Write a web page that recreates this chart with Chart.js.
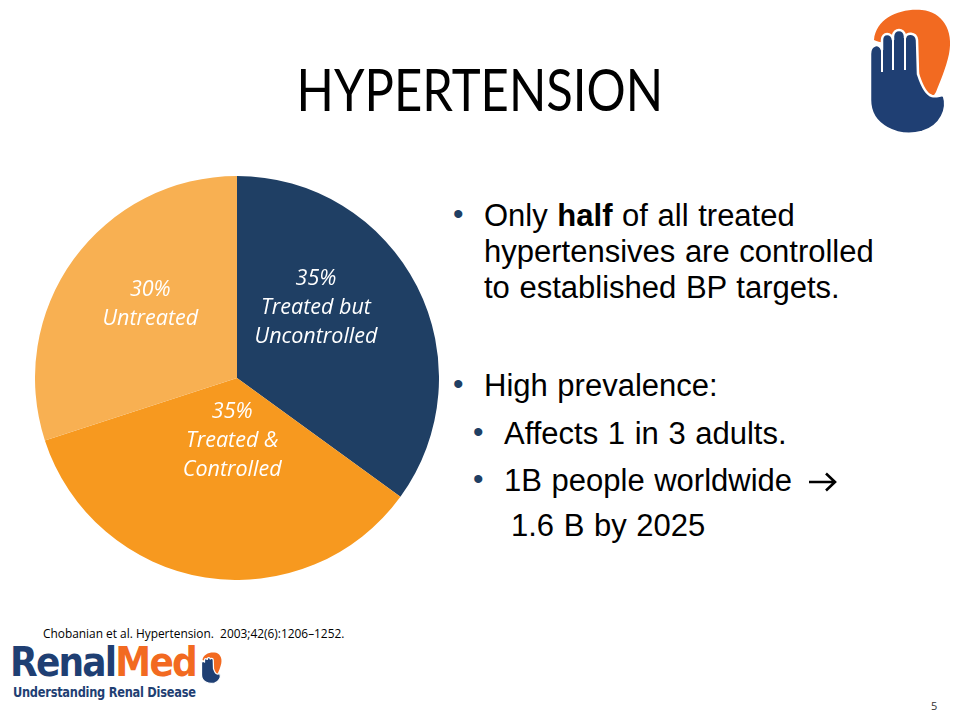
<!DOCTYPE html>
<html>
<head>
<meta charset="utf-8">
<script src="https://cdn.jsdelivr.net/npm/chart.js@4/dist/chart.umd.min.js"></script>
<style>
  body { margin: 0; width: 960px; height: 720px; background: #fff; position: relative; overflow: hidden; font-family: "Liberation Sans", Arial, sans-serif; }
  .abs { position: absolute; white-space: nowrap; }
  #title { left: 0; width: 960px; top: 53px; text-align: center; font-family: Lato, "Open Sans", sans-serif; font-size: 59px; color: #000; }
  #title span { display: inline-block; transform: scaleX(0.83); }
  #pieBox { position: absolute; left: 35px; top: 176px; width: 404px; height: 404px; }
  .b { font-size: 31px; color: #000; word-spacing: 1px; }
  .dot { font-size: 30px; color: #1f3f64; }
  #cite { left: 43px; top: 625px; font-family: "Open Sans", sans-serif; font-size: 11.9px; color: #000; }
  #page { left: 931px; top: 698px; font-family: "Open Sans", sans-serif; font-size: 11px; color: #333; }
  #brand { left: 10px; top: 639px; font-family: "DejaVu Sans Condensed", "DejaVu Sans", sans-serif; font-weight: bold; font-size: 40px; letter-spacing: -1.8px; }
  #tag { left: 13px; top: 684px; font-family: "DejaVu Sans Condensed", "DejaVu Sans", sans-serif; font-weight: bold; font-size: 14.5px; color: #1f3f73; letter-spacing: -0.3px; transform: scaleX(0.875); transform-origin: left top; }
</style>
</head>
<body>
<div id="title" class="abs"><span>HYPERTENSION</span></div>

<svg class="abs" style="left:860px;top:0" width="100" height="140" viewBox="0 0 100 140">
  <path d="M14 40 C16 18 40 8 62 10 C82 12 94 30 89 54 C86 68 80 82 76 92 C72 100 62 100 60 92 C58 80 62 60 52 48 C44 40 26 46 14 40 Z" fill="#f26a21"/>
  <path d="M10 54 C10 44 20 42 22 50 L22 40 C22 32 32 32 33 40 L33 36 C34 28 44 28 45 36 L45 38 C46 32 56 32 57 40 L58 74 C60 80 64 94 72 96 C78 97 82 94 84 96 C88 108 82 126 62 132 C38 138 10 126 10 100 Z" fill="#1f3f73" stroke="#fff" stroke-width="2.5"/>
  <path d="M22 50 L22 72 M33 40 L33 70 M45 38 L45 70" stroke="#fff" stroke-width="2" fill="none"/>
</svg>

<div id="pieBox"><canvas id="pie"></canvas></div>

<div class="abs b" style="left:453px;top:196px"><span class="dot">•</span></div>
<div class="abs b" style="left:484px;top:198px">Only <b>half</b> of all treated</div>
<div class="abs b" style="left:484px;top:234px">hypertensives are controlled</div>
<div class="abs b" style="left:484px;top:270px">to established BP targets.</div>

<div class="abs b" style="left:453px;top:366px"><span class="dot">•</span></div>
<div class="abs b" style="left:484px;top:368px">High prevalence:</div>
<div class="abs b" style="left:473px;top:414px"><span class="dot">•</span></div>
<div class="abs b" style="left:504px;top:416px">Affects 1 in 3 adults.</div>
<div class="abs b" style="left:473px;top:461px"><span class="dot">•</span></div>
<div class="abs b" style="left:504px;top:463px">1B people worldwide</div>
<svg class="abs" style="left:807px;top:471px" width="32" height="22" viewBox="0 0 32 22">
  <path d="M2 11 L28 11 M19 2.5 L28 11 L19 19.5" stroke="#000" stroke-width="2.6" fill="none" stroke-linejoin="miter"/>
</svg>
<div class="abs b" style="left:511px;top:508px">1.6 B by 2025</div>

<div id="cite" class="abs">Chobanian et al. Hypertension.&nbsp; 2003;42(6):1206–1252.</div>

<div id="brand" class="abs"><span style="color:#1f3f73">Renal</span><span style="color:#f26a21">Med</span></div>
<svg class="abs" style="left:199px;top:650px" width="25" height="35" viewBox="0 0 100 140">
  <path d="M14 40 C16 18 40 8 62 10 C82 12 94 30 89 54 C86 68 80 82 76 92 C72 100 62 100 60 92 C58 80 62 60 52 48 C44 40 26 46 14 40 Z" fill="#f26a21"/>
  <path d="M10 54 C10 44 20 42 22 50 L22 40 C22 32 32 32 33 40 L33 36 C34 28 44 28 45 36 L45 38 C46 32 56 32 57 40 L58 74 C60 80 64 94 72 96 C78 97 82 94 84 96 C88 108 82 126 62 132 C38 138 10 126 10 100 Z" fill="#1f3f73" stroke="#fff" stroke-width="5"/>
</svg>
<div id="tag" class="abs">Understanding Renal Disease</div>

<div id="page" class="abs">5</div>

<script>
// slice data, clockwise from 12 o'clock
const categories = ['Treated but Uncontrolled', 'Treated & Controlled', 'Untreated'];
const shares = [35, 35, 30];
const sliceColors = ['#1f3f64', '#f7991f', '#f8b052'];
const labelLines = [
  ['35%', 'Treated but', 'Uncontrolled'],
  ['35%', 'Treated &', 'Controlled'],
  ['30%', 'Untreated']
];

// nudge each label from the slice centre, like in the slide
const labelShift = [[-11, -24], [11, -37], [-5, -14]];

const sliceLabels = {
  id: 'sliceLabels',
  afterDatasetsDraw(chart) {
    const ctx = chart.ctx;
    const meta = chart.getDatasetMeta(0);
    ctx.save();
    ctx.fillStyle = '#fff';
    ctx.font = 'italic 21.5px "Open Sans", Lato, sans-serif';
    ctx.textAlign = 'center';
    ctx.textBaseline = 'middle';
    meta.data.forEach(function(arc, i) {
      const p = arc.tooltipPosition();
      const lines = labelLines[i];
      const lh = 29;
      const x = p.x + labelShift[i][0];
      const y0 = p.y + labelShift[i][1] - (lines.length - 1) * lh / 2;
      lines.forEach(function(t, k) {
        ctx.fillText(t, x, y0 + k * lh);
      });
    });
    ctx.restore();
  }
};

new Chart(document.getElementById('pie').getContext('2d'), {
  type: 'pie',
  data: {
    labels: categories,
    datasets: [{
      data: shares,
      backgroundColor: sliceColors,
      borderWidth: 0
    }]
  },
  options: {
    responsive: true,
    maintainAspectRatio: false,
    animation: false,
    layout: { padding: 0 },
    plugins: {
      legend: { display: false },
      tooltip: { enabled: false }
    }
  },
  plugins: [sliceLabels]
});
</script>
</body>
</html>
